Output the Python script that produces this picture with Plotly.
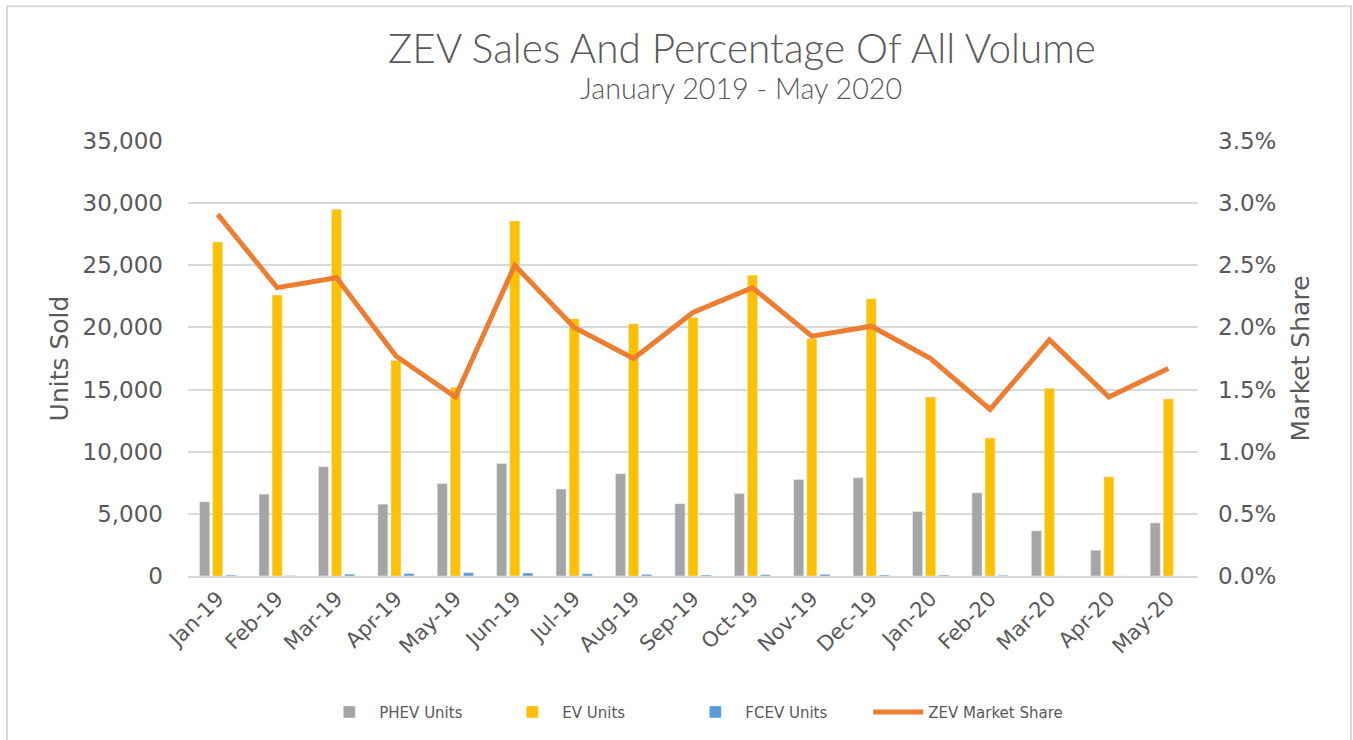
import plotly.graph_objects as go

months = ["Jan-19", "Feb-19", "Mar-19", "Apr-19", "May-19", "Jun-19", "Jul-19", "Aug-19",
          "Sep-19", "Oct-19", "Nov-19", "Dec-19", "Jan-20", "Feb-20", "Mar-20", "Apr-20", "May-20"]
phev_units = [5970, 6590, 8790, 5780, 7440, 9060, 6990, 8230, 5810, 6640, 7770, 7900, 5190, 6690, 3630, 2070, 4270]
ev_units = [26880, 22600, 29500, 17340, 15160, 28570, 20700, 20300, 20800, 24200, 19100, 22300, 14400, 11100, 15100, 7980, 14250]
fcev_units = [80, 40, 150, 200, 270, 240, 180, 130, 80, 100, 130, 80, 80, 60, 0, 0, 0]
zev_share = [0.0291, 0.0232, 0.0240, 0.0177, 0.0144, 0.0250, 0.0200, 0.0175, 0.0212, 0.0232,
             0.0193, 0.0201, 0.0175, 0.0134, 0.0190, 0.0144, 0.0167]

grey_txt = "#595959"
grid = "#D9D9D9"
tick_font = dict(family="DejaVu Sans", size=23, color=grey_txt)
title_font = dict(family="DejaVu Sans", size=25, color=grey_txt)

fig = go.Figure()
fig.add_trace(go.Bar(name="PHEV Units", x=months, y=phev_units, marker_color="#A5A5A5"))
fig.add_trace(go.Bar(name="EV Units", x=months, y=ev_units, marker_color="#FFC000"))
fig.add_trace(go.Bar(name="FCEV Units", x=months, y=fcev_units, marker_color="#5B9BD5"))
fig.add_trace(go.Scatter(name="ZEV Market Share", x=months, y=zev_share, yaxis="y2",
                         mode="lines", line=dict(color="#ED7D31", width=5)))
# empty legend entry so the last label isn't clipped by entrywidth
fig.add_trace(go.Scatter(name=" ", x=[None], y=[None], mode="lines",
                         line=dict(width=0, color="rgba(0,0,0,0)"), hoverinfo="skip"))

fig.update_layout(
    width=1353, height=740,
    margin=dict(l=188, r=155, t=141, b=164),
    paper_bgcolor="white", plot_bgcolor="white",
    barmode="group", bargap=0.34, bargroupgap=0.23,
    title=dict(text="ZEV Sales And Percentage Of All Volume", x=0.5485, xref="paper",
               xanchor="center", y=0.934, yanchor="middle",
               font=dict(family="Lato", size=40.5, color=grey_txt, weight=300)),
    xaxis=dict(showline=True, linecolor=grid, linewidth=2, tickangle=-45,
               tickfont=dict(family="DejaVu Sans", size=21, color=grey_txt), showgrid=False),
    yaxis=dict(range=[0, 35000], dtick=5000, tickformat=",", tickfont=tick_font,
               gridcolor=grid, gridwidth=1.5, zeroline=False, ticklabelstandoff=24,
               title=dict(text="Units Sold", font=title_font, standoff=6)),
    yaxis2=dict(range=[0, 0.035], dtick=0.005, tickformat=".1%", tickfont=tick_font,
                overlaying="y", side="right", showgrid=False, zeroline=False,
                ticklabelstandoff=19,
                title=dict(text="Market Share", font=title_font, standoff=16)),
    legend=dict(orientation="h", x=0.13, xanchor="left", y=-0.313, yanchor="middle",
                font=dict(family="DejaVu Sans", size=15, color=grey_txt),
                itemwidth=50, entrywidth=118, traceorder="normal"),
    showlegend=True,
)

fig.add_annotation(text="January 2019 - May 2020", xref="paper", yref="paper",
                   x=0.5475, y=1.122, xanchor="center", yanchor="middle", showarrow=False,
                   font=dict(family="Lato", size=28.7, color=grey_txt, weight=300))

fig.add_shape(type="rect", xref="paper", yref="paper", x0=-0.1792, x1=1.1515, y0=-0.5, y1=1.310,
              line=dict(color=grid, width=2), layer="below")

fig.write_html("out.html", config={"displayModeBar": False},
               post_script="document.body.style.margin='0';")
